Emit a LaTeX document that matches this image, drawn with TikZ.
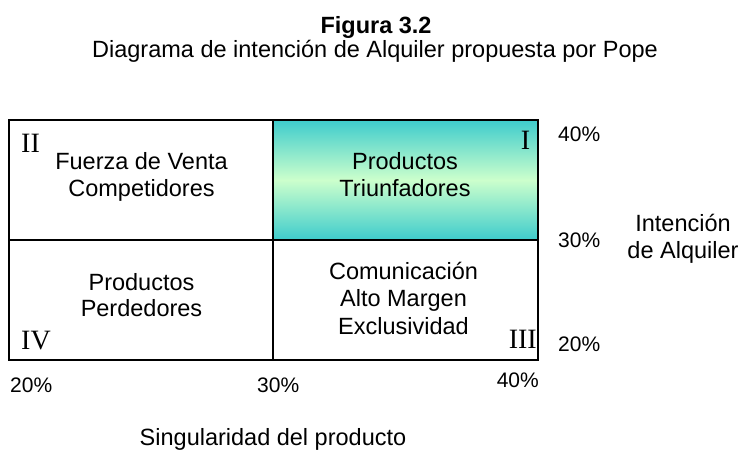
\documentclass[tikz,border=0pt]{standalone}
\usepackage{fontspec}
\setmainfont{Liberation Sans}
\newfontfamily\romanfont{Liberation Serif}
\definecolor{teal1}{RGB}{62,204,204}
\definecolor{mint1}{RGB}{204,255,204}
\begin{document}
\begin{tikzpicture}[x=1pt,y=-1pt,
  lbl/.style={font=\fontsize{23.5}{27}\selectfont,inner sep=0pt,anchor=base},
  pct/.style={font=\fontsize{21}{24}\selectfont,inner sep=0pt},
  rom/.style={font=\romanfont\fontsize{28}{30}\selectfont,inner sep=0pt},
  grid/.style={draw=black,line width=1.6pt}]
\useasboundingbox (0,0) rectangle (743,450);
% shaded quadrant I
\shade[top color=teal1,bottom color=mint1] (273,120) rectangle (538,180);
\shade[top color=mint1,bottom color=teal1] (273,180) rectangle (538,240);
\draw[grid] (9,120) rectangle (538,360);
\draw[grid] (273,120) -- (273,360);
\draw[grid] (9,240) -- (538,240);
% titles
\node[lbl,font=\bfseries\fontsize{23.5}{27}\selectfont] (t1) at (376,33) {Figura 3.2};
\node[lbl] (t2) at (375,57) {Diagrama de intención de Alquiler propuesta por Pope};
% quadrant texts
\node[lbl] (q2a) at (141.5,169) {Fuerza de Venta};
\node[lbl] (q2b) at (141.5,196) {Competidores};
\node[lbl] (q1a) at (405,169) {Productos};
\node[lbl] (q1b) at (405,196) {Triunfadores};
\node[lbl] (q4a) at (141.5,290) {Productos};
\node[lbl] (q4b) at (141.5,316) {Perdedores};
\node[lbl] (q3a) at (403.5,279) {Comunicación};
\node[lbl] (q3b) at (403.5,306.5) {Alto Margen};
\node[lbl] (q3c) at (403.5,334) {Exclusividad};
% roman numerals
\node[rom,anchor=base west] (r2) at (21,152) {II};
\node[rom,anchor=base] (r1) at (525.5,149) {I};
\node[rom,anchor=base west] (r4) at (21,349) {IV};
\node[rom,anchor=base east] (r3) at (537,348) {III};
% right axis
\node[pct,anchor=base west] (y40) at (558,141) {40\%};
\node[pct,anchor=base west] (y30) at (558,247) {30\%};
\node[pct,anchor=base west] (y20) at (558,351) {20\%};
\node[lbl] (ylaba) at (683,231) {Intención};
\node[lbl] (ylabb) at (683,258) {de Alquiler};
% bottom axis
\node[pct,anchor=base west] (x20) at (10,392) {20\%};
\node[pct,anchor=base west] (x30) at (257,392) {30\%};
\node[pct,anchor=base east] (x40) at (539,387) {40\%};
\node[lbl] (xlab) at (273,445) {Singularidad del producto};
\end{tikzpicture}
\end{document}
